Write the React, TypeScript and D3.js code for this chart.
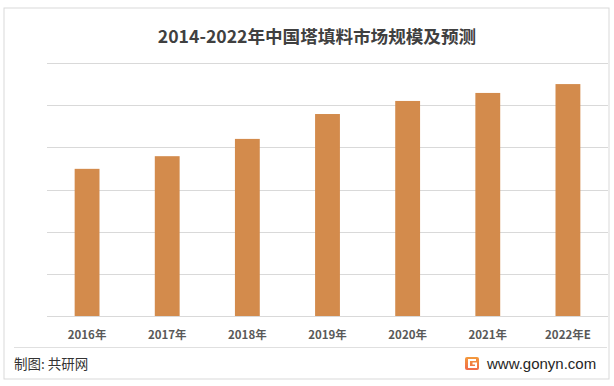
import React from 'react';
import * as d3 from 'd3';

const years = ['2016年', '2017年', '2018年', '2019年', '2020年', '2021年', '2022年E'];
const values = [3.49, 3.79, 4.2, 4.79, 5.1, 5.29, 5.5];
const gridTicks = [0, 1, 2, 3, 4, 5, 6];

const W = 614;
const H = 386;
const margin = { top: 63, right: 6, bottom: 70, left: 47 };

const App = () => {
  const plotW = W - margin.left - margin.right;
  const plotH = 316 - margin.top;

  const x = d3.scaleBand().domain(years).range([0, plotW]).paddingInner(0.69).paddingOuter(0.345);
  const y = d3.scaleLinear().domain([0, 6]).range([plotH, 0]);

  return (
    <svg
      width={W}
      height={H}
      style={{ position: 'absolute', left: 0, top: 0, fontFamily: '"Noto Sans CJK SC", "Noto Sans", sans-serif' }}
    >
      <defs>
        <linearGradient id="logoGrad" x1="0" y1="0" x2="0" y2="1">
          <stop offset="0%" stopColor="#f39a3c" />
          <stop offset="100%" stopColor="#f06a4a" />
        </linearGradient>
      </defs>
      <rect x={0} y={0} width={W} height={H} fill="#ffffff" />
      <rect x={4} y={8} width={605} height={371} fill="none" stroke="#d9d9d9" strokeWidth={1} />

      <text x={317} y={43} textAnchor="middle" fontSize={17.6} fontWeight="bold" fill="#404040">
        2014-2022年中国塔填料市场规模及预测
      </text>

      <g transform={`translate(${margin.left},${margin.top})`}>
        {gridTicks.map((t) => (
          <line
            key={t}
            x1={0}
            x2={plotW}
            y1={Math.round(y(t)) + 0.5}
            y2={Math.round(y(t)) + 0.5}
            stroke="#d9d9d9"
            strokeWidth={1}
          />
        ))}
        {years.map((yr, i) => (
          <rect
            key={yr}
            x={x(yr)}
            y={y(values[i])}
            width={x.bandwidth()}
            height={plotH - y(values[i])}
            fill="#d38b4c"
          />
        ))}
        {years.map((yr) => (
          <text
            key={yr}
            x={(x(yr) as number) + x.bandwidth() / 2}
            y={plotH + 23}
            textAnchor="middle"
            fontSize={11.5}
            fontWeight="bold"
            fill="#595959"
          >
            {yr}
          </text>
        ))}
      </g>

      <line x1={14} x2={607} y1={347.5} y2={347.5} stroke="#e0e0e0" strokeWidth={1} />

      <text x={14} y={369} fontSize={13.5} fill="#333333">
        制图: 共研网
      </text>

      <g transform="translate(465,357)">
        <rect x={0} y={0} width={14} height={13} rx={2} fill="url(#logoGrad)" />
        <path d="M11 3 H4 V10 H11 V6.5 H7.5" fill="none" stroke="#ffffff" strokeWidth={2} />
      </g>
      <text x={487} y={369} fontSize={15} fill="#262626" fontFamily="Arial, 'Liberation Sans', sans-serif">
        www.gonyn.com
      </text>
    </svg>
  );
};

export default App;
